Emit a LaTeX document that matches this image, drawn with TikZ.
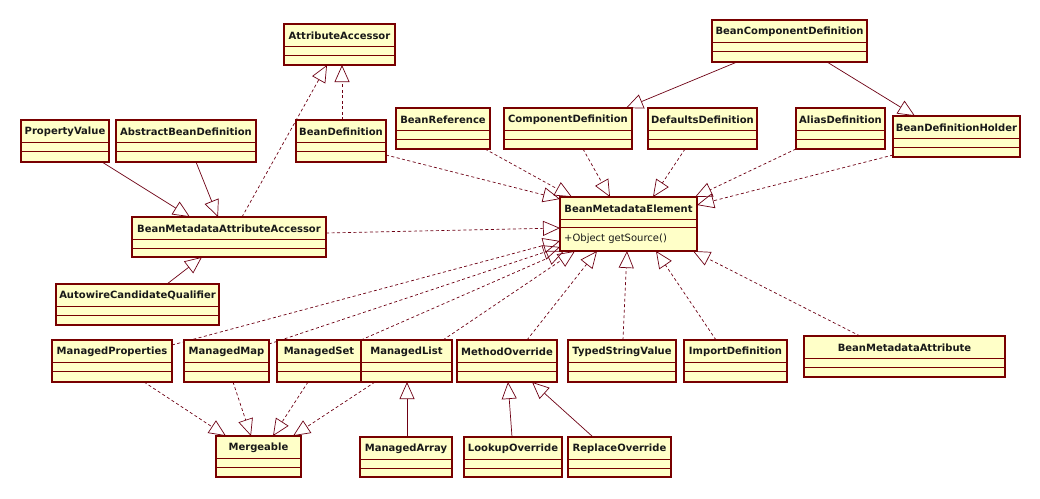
\documentclass[tikz,border=0pt]{standalone}
\usepackage{fontspec}
\setmainfont{DejaVu Sans}
\usetikzlibrary{arrows.meta,calc}
\definecolor{boxfill}{RGB}{255,255,200}
\definecolor{boxline}{RGB}{120,0,0}
\definecolor{conn}{RGB}{110,0,20}
\pgfdeclarelayer{bg}
\pgfsetlayers{bg,main}
\tikzset{
  clsbox/.style={draw=boxline, fill=boxfill, line width=1.1pt, inner sep=0pt, outer sep=0pt},
  ttl/.style={font=\bfseries\fontsize{10}{12}\selectfont, text=black!90, inner sep=0pt},
  mth/.style={font=\fontsize{10}{12}\selectfont, text=black!90, inner sep=0pt, anchor=west},
  divline/.style={draw=boxline, line width=0.9pt},
  gen/.style={draw=conn, line width=0.7pt, -{Triangle[open, length=17pt, width=15pt]}},
  real/.style={gen, dash pattern=on 3pt off 2.5pt},
}
\newcommand\umlbox[6]{%
  \pgfmathsetmacro\bw{#4-#2}%
  \pgfmathsetmacro\bh{#5-#3}%
  \node[clsbox, anchor=north west, minimum width=\bw pt, minimum height=\bh pt] (#1) at (#2,#3) {};
  \node[ttl] (#1t) at ({(#2+#4)/2},{#3+11.5}) {#6};
  \draw[divline] (#2,#3+22) -- (#4,#3+22);
  \draw[divline] (#2,#3+31.5) -- (#4,#3+31.5);
}
\begin{document}
\begin{tikzpicture}[x=1pt,y=-1pt]
\useasboundingbox (0,0) rectangle (1040,498);
\begin{pgfonlayer}{bg}
\fill[white] (0,0) rectangle (1040,498);
\end{pgfonlayer}

\umlbox{aa}{284}{24}{395}{65}{AttributeAccessor}
\umlbox{pv}{21}{120}{109}{162}{PropertyValue}
\umlbox{abd}{116}{120}{256}{162}{AbstractBeanDefinition}
\umlbox{bd}{296}{120}{386}{162}{BeanDefinition}
\umlbox{br}{396}{108}{490}{149}{BeanReference}
\umlbox{cd}{504}{108}{632}{149}{ComponentDefinition}
\umlbox{dd}{648}{108}{757}{149}{DefaultsDefinition}
\umlbox{bcd}{712}{20}{867}{62}{BeanComponentDefinition}
\umlbox{ad}{796}{108}{885}{149}{AliasDefinition}
\umlbox{bdh}{893}{116}{1020}{157}{BeanDefinitionHolder}
\umlbox{bmaa}{132}{217}{326}{257}{BeanMetadataAttributeAccessor}
\umlbox{acq}{56}{284}{219}{325}{AutowireCandidateQualifier}
\umlbox{mp}{52}{340}{172}{382}{ManagedProperties}
\umlbox{mm}{184}{340}{269}{382}{ManagedMap}
\umlbox{ms}{277}{340}{361}{382}{ManagedSet}
\umlbox{ml}{361}{340}{452}{382}{ManagedList}
\umlbox{mo}{457}{340}{557}{382}{MethodOverride}
\umlbox{tsv}{568}{340}{676}{382}{TypedStringValue}
\umlbox{id}{684}{340}{787}{382}{ImportDefinition}
\umlbox{bma}{804}{336}{1005}{377}{BeanMetadataAttribute}
\umlbox{mg}{216}{436}{301}{477}{Mergeable}
\umlbox{ma}{360}{437}{452}{477}{ManagedArray}
\umlbox{lo}{464}{437}{562}{477}{LookupOverride}
\umlbox{ro}{568}{437}{671}{477}{ReplaceOverride}

% BeanMetadataElement (with method)
\node[clsbox, anchor=north west, minimum width=137pt, minimum height=54pt] (bme) at (560,197) {};
\node[ttl] (bmet) at (628.5,208.5) {BeanMetadataElement};
\draw[divline] (560,219) -- (697,219);
\draw[divline] (560,227) -- (697,227);
\node[mth] (bmem) at (564,239) {+Object getSource()};

\begin{pgfonlayer}{bg}
% generalizations (solid)
\draw[gen] ([xshift=81pt]pv.south west) -- ([xshift=58pt]bmaa.north west);
\draw[gen] ([xshift=80pt]abd.south west) -- ([xshift=86pt]bmaa.north west);
\draw[gen] ([xshift=111pt]acq.north west) -- ([xshift=70pt]bmaa.south west);
\draw[gen] ([xshift=25pt]bcd.south west) -- ([xshift=-6pt]cd.north east);
\draw[gen] ([xshift=115pt]bcd.south west) -- ([xshift=22pt]bdh.north west);
\draw[gen] ([xshift=47pt]ma.north west) -- ([xshift=46pt]ml.south west);
\draw[gen] ([xshift=48pt]lo.north west) -- ([xshift=51pt]mo.south west);
\draw[gen] ([xshift=25pt]ro.north west) -- ([xshift=75pt]mo.south west);
% realizations (dashed)
\draw[real] ([xshift=110pt]bmaa.north west) -- ([xshift=43pt]aa.south west);
\draw[real] ([xshift=46pt]bd.north west) -- ([xshift=58pt]aa.south west);
\draw[real] ([yshift=-16pt]bmaa.north east) -- ([yshift=-31pt]bme.north west);
\draw[real] ([yshift=7pt]bd.south east) -- ([yshift=-2pt]bme.north west);
\draw[real] ([xshift=-5pt]br.south east) -- ([xshift=12pt]bme.north west);
\draw[real] ([xshift=79pt]cd.south west) -- ([xshift=50pt]bme.north west);
\draw[real] ([xshift=37pt]dd.south west) -- ([xshift=93pt]bme.north west);
\draw[real] (ad.south west) -- ([xshift=-2pt]bme.north east);
\draw[real] ([yshift=2pt]bdh.south west) -- ([yshift=-8pt]bme.north east);
\draw[real] ([yshift=-5pt]mp.north east) -- ([yshift=10pt]bme.south west);
\draw[real] ([yshift=-4pt]mm.north east) -- ([yshift=4pt]bme.south west);
\draw[real] (ms.north east) -- ([xshift=4pt]bme.south west);
\draw[real] ([xshift=-9pt]ml.north east) -- ([xshift=15pt]bme.south west);
\draw[real] ([xshift=70pt]mo.north west) -- ([xshift=37pt]bme.south west);
\draw[real] ([xshift=55pt]tsv.north west) -- ([xshift=67pt]bme.south west);
\draw[real] ([xshift=32pt]id.north west) -- ([xshift=96pt]bme.south west);
\draw[real] ([xshift=56pt]bma.north west) -- ([xshift=-4pt]bme.south east);
\draw[real] ([xshift=92pt]mp.south west) -- ([xshift=10pt]mg.north west);
\draw[real] ([xshift=49pt]mm.south west) -- ([xshift=35pt]mg.north west);
\draw[real] ([xshift=31pt]ms.south west) -- ([xshift=57pt]mg.north west);
\draw[real] ([xshift=14pt]ml.south west) -- ([xshift=-8pt]mg.north east);
\end{pgfonlayer}
\end{tikzpicture}
\end{document}
